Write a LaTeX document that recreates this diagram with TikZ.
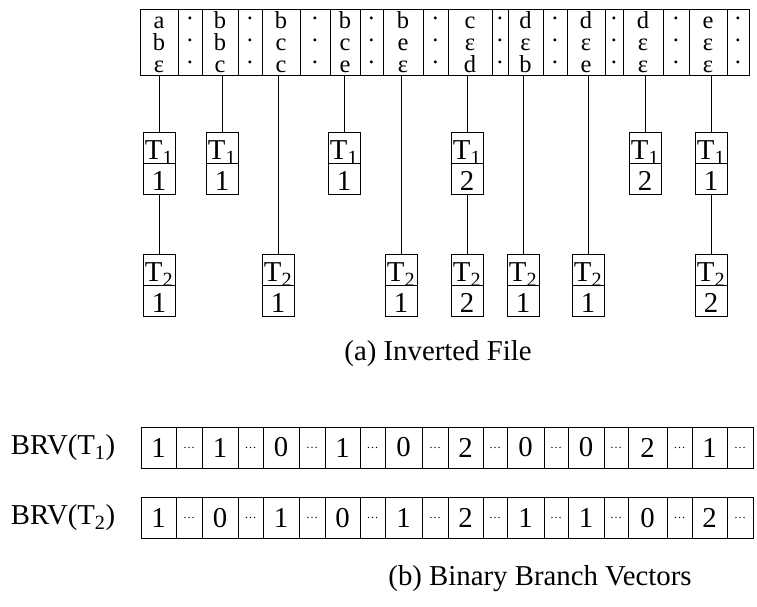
\documentclass[tikz,border=0pt]{standalone}
\usepackage{fontspec}
\setmainfont{Liberation Serif}
\usetikzlibrary{positioning}
\newcommand{\colstrut}{\rule[-3pt]{0pt}{22pt}}
\newcommand{\stack}[3]{\colstrut#1\\\colstrut#2\\\colstrut#3}
\newcommand{\pdot}{\raisebox{2pt}{·}}
\tikzset{every picture/.style={x=1pt,y=-1pt,line width=1pt}}
\tikzset{cell/.style={draw,inner sep=0,outer sep=0,minimum height=66,align=center,font=\fontsize{24.5}{22}\selectfont}}
\tikzset{half/.style={draw,inner sep=0,outer sep=0,minimum width=32,minimum height=31,text height=27,text depth=4,font=\fontsize{28.8}{30}\selectfont}}
\tikzset{bit/.style={draw,inner sep=0,outer sep=0,minimum height=41,font=\fontsize{28.8}{30}\selectfont}}
\tikzset{gap/.style={bit,font=\fontsize{12}{12}\selectfont}}
\tikzset{caption/.style={font=\fontsize{28.8}{30}\selectfont}}

\begin{document}
\begin{tikzpicture}
\useasboundingbox (0,0) rectangle (757,606);
% inverted file: letter columns and dot columns
\foreach \i/\xl/\xr/\a/\b/\c in {1/140/178/a/b/ε, 2/202/238/b/b/c, 3/262/300/b/c/c,
    4/330/360/b/c/e, 5/383/423/b/e/ε, 6/448/492/c/ε/d, 7/508/543/d/ε/b,
    8/567/605/d/ε/e, 9/623/663/d/ε/ε, 10/689/727/e/ε/ε}
  \node [cell,minimum width=\xr-\xl] (l\i) at ({(\xl+\xr)/2},42) {\stack{\a}{\b}{\c}};
\foreach \i/\xl/\xr in {1/178/202, 2/238/262, 3/300/330, 4/360/383, 5/423/448,
    6/492/508, 7/543/567, 8/605/623, 9/663/689, 10/727/749}
  \node [cell,minimum width=\xr-\xl] (d\i) at ({(\xl+\xr)/2},42) {\stack{\pdot}{\pdot}{\pdot}};
% postings of T1
\foreach \i/\x/\v in {1/159/1, 2/222/1, 4/344/1, 6/467/2, 9/645/2, 10/711/1} {
  \node [half] (ta\i) at (\x,148) {T\textsubscript{1}};
  \node [half,below=0pt of ta\i] (va\i) {\v};
  \draw (ta\i.north) -- (ta\i.north |- l\i.south);
}
% postings of T2
\foreach \i/\x/\v in {1/159/1, 3/278/1, 5/401/1, 6/467/2, 7/523/1, 8/588/1, 10/711/2} {
  \node [half] (tb\i) at (\x,270) {T\textsubscript{2}};
  \node [half,below=0pt of tb\i] (vb\i) {\v};
}
\foreach \i in {1,6,10}
  \draw (va\i.south) -- (tb\i.north);
\foreach \i in {3,5,7,8}
  \draw (tb\i.north) -- (tb\i.north |- l\i.south);
\node [caption] (capa) at (438,354) {(a) Inverted File};
% binary branch vectors
\foreach \i/\xl/\xr/\u/\w in {1/141/176/1/1, 2/202/238/1/0, 3/263/299/0/1, 4/325/360/1/0,
    5/385/422/0/1, 6/448/483/2/2, 7/507/544/0/1, 8/568/604/0/1, 9/628/667/2/0, 10/692/727/1/2} {
  \node [bit,minimum width=\xr-\xl] (ra\i) at ({(\xl+\xr)/2},447.5) {\u};
  \node [bit,minimum width=\xr-\xl] (rb\i) at ({(\xl+\xr)/2},518) {\w};
}
\foreach \i/\xl/\xr in {1/176/202, 2/238/263, 3/299/325, 4/360/385, 5/422/448,
    6/483/507, 7/544/568, 8/604/628, 9/667/692, 10/727/753} {
  \node [gap,minimum width=\xr-\xl] (ga\i) at ({(\xl+\xr)/2},447.5) {…};
  \node [gap,minimum width=\xr-\xl] (gb\i) at ({(\xl+\xr)/2},518) {…};
}
\node [caption,left=22pt of ra1] (brva) {BRV(T\textsubscript{1})};
\node [caption,left=22pt of rb1] (brvb) {BRV(T\textsubscript{2})};
\node [caption] (capb) at (540,579) {(b) Binary Branch Vectors};
\end{tikzpicture}
\end{document}
